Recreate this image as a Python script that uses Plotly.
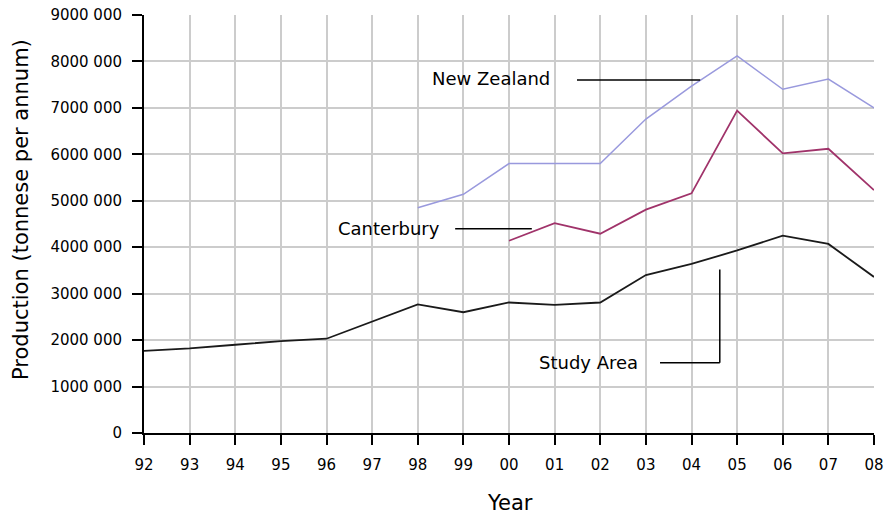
import plotly.graph_objects as go

years = list(range(1992, 2009))
year_labels = ["92", "93", "94", "95", "96", "97", "98", "99", "00",
               "01", "02", "03", "04", "05", "06", "07", "08"]

study_area = [1770000, 1820000, 1900000, 1980000, 2030000, 2400000, 2770000,
              2600000, 2810000, 2760000, 2810000, 3400000, 3640000, 3930000,
              4250000, 4070000, 3360000]
canterbury_years = list(range(2000, 2009))
canterbury = [4140000, 4520000, 4290000, 4810000, 5160000, 6940000, 6020000,
              6120000, 5230000]
nz_years = list(range(1998, 2009))
new_zealand = [4850000, 5140000, 5800000, 5800000, 5800000, 6760000, 7470000,
               8120000, 7400000, 7620000, 7000000]

y_ticks = [0, 1000000, 2000000, 3000000, 4000000, 5000000, 6000000, 7000000,
           8000000, 9000000]
y_tick_labels = ["0", "1000 000", "2000 000", "3000 000", "4000 000",
                 "5000 000", "6000 000", "7000 000", "8000 000", "9000 000"]

FONT = "DejaVu Sans"

fig = go.Figure()
fig.add_trace(go.Scatter(x=nz_years, y=new_zealand, mode="lines",
                         line=dict(color="#9999dd", width=1.5), name="New Zealand"))
fig.add_trace(go.Scatter(x=canterbury_years, y=canterbury, mode="lines",
                         line=dict(color="#a0336a", width=1.8), name="Canterbury"))
fig.add_trace(go.Scatter(x=years, y=study_area, mode="lines",
                         line=dict(color="#1a1a1a", width=1.8), name="Study Area"))

# callout lines
line_style = dict(color="black", width=1.5)
fig.add_shape(type="line", xref="x", yref="y", x0=2001.49, x1=2004.19,
              y0=7600000, y1=7600000, line=line_style)
fig.add_shape(type="line", xref="x", yref="y", x0=1998.82, x1=2000.5,
              y0=4400000, y1=4400000, line=line_style)
fig.add_shape(type="line", xref="x", yref="y", x0=2003.31, x1=2004.62,
              y0=1510000, y1=1510000, line=line_style)
fig.add_shape(type="line", xref="x", yref="y", x0=2004.62, x1=2004.62,
              y0=1510000, y1=3520000, line=line_style)

lab_font = dict(family=FONT, size=18, color="black")
fig.add_annotation(x=1999.6, y=7630000, text="New Zealand", showarrow=False,
                   font=lab_font, xanchor="center", yanchor="middle")
fig.add_annotation(x=1997.37, y=4400000, text="Canterbury", showarrow=False,
                   font=lab_font, xanchor="center", yanchor="middle")
fig.add_annotation(x=2001.75, y=1510000, text="Study Area", showarrow=False,
                   font=lab_font, xanchor="center", yanchor="middle")

title_font = dict(family=FONT, size=21, color="black")
fig.add_annotation(xref="paper", yref="paper", x=-0.1685, y=0.536,
                   text="Production (tonnese per annum)", textangle=-90,
                   showarrow=False, font=title_font,
                   xanchor="center", yanchor="middle")
fig.add_annotation(xref="paper", yref="paper", x=0.502, y=-0.167,
                   text="Year", showarrow=False, font=title_font,
                   xanchor="center", yanchor="middle")

fig.update_layout(
    width=885, height=515,
    margin=dict(l=144, r=11, t=15, b=82, autoexpand=False),
    paper_bgcolor="white", plot_bgcolor="white",
    showlegend=False,
    font=dict(family=FONT, size=15, color="black"),
)
axis_common = dict(showgrid=True, gridcolor="#cccccc", gridwidth=1.5,
                   showline=True, linecolor="black", linewidth=2,
                   ticks="outside", ticklen=10, tickwidth=2, tickcolor="black",
                   tickfont=dict(family=FONT, size=15, color="black"),
                   ticklabeloverflow="allow", ticklabelstandoff=7,
                   automargin=False, zeroline=False)
fig.update_xaxes(range=[1992, 2008], tickvals=years, ticktext=year_labels,
                 **axis_common)
fig.update_yaxes(range=[0, 9000000], tickvals=y_ticks, ticktext=y_tick_labels,
                 **axis_common)

fig.write_html("out.html", config={"displayModeBar": False},
               post_script="document.body.style.margin='0';")
